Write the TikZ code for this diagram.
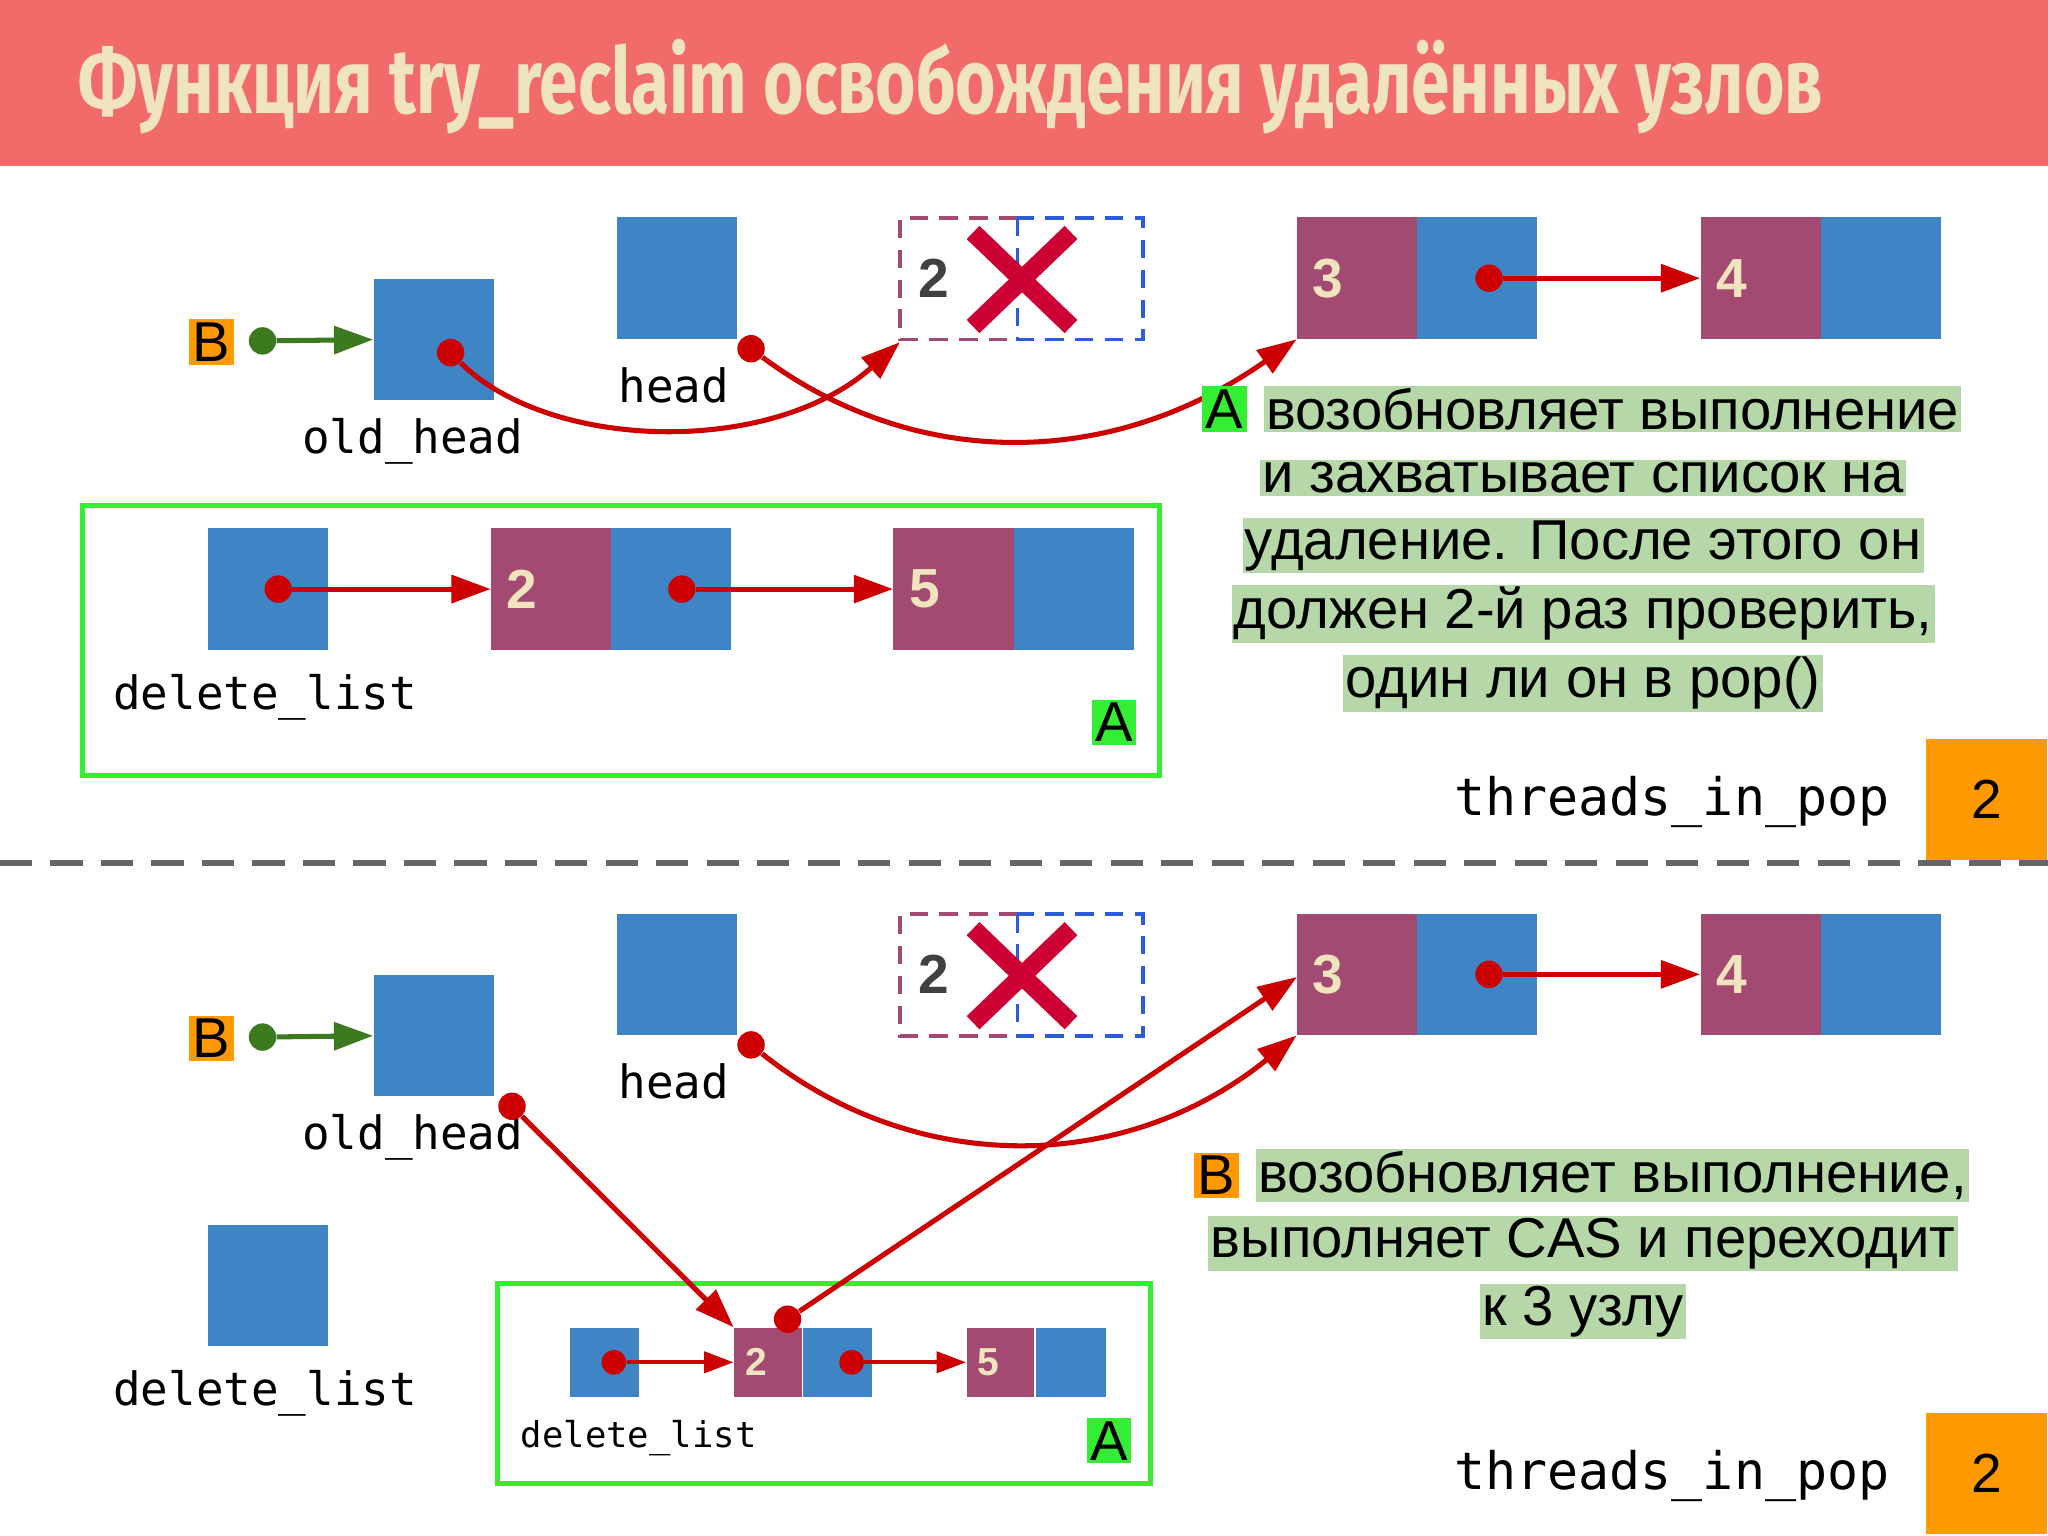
\documentclass[tikz,border=0pt]{standalone}
\usepackage{fontspec}
\setmainfont{Liberation Sans}
\newfontfamily\titlef{Fira Sans}
\setmonofont{DejaVu Sans Mono}
\usetikzlibrary{arrows.meta}
\definecolor{tred}{HTML}{F26B6B}
\definecolor{cream}{HTML}{F0E4BE}
\definecolor{nblue}{HTML}{3F84C5}
\definecolor{npurp}{HTML}{A34A73}
\definecolor{ared}{HTML}{CC0000}
\definecolor{gbox}{HTML}{33EE33}
\definecolor{orng}{HTML}{FF9900}
\definecolor{hl}{HTML}{B6D7A8}
\definecolor{garr}{HTML}{3D7A1F}
\definecolor{xred}{HTML}{CC0033}
\begin{document}
\begin{tikzpicture}[x=0.02cm,y=-0.02cm,
  blue/.style={fill=nblue,draw=none,minimum width=1.84cm,minimum height=1.86cm,inner sep=0},
  purp/.style={fill=npurp,draw=none,minimum width=1.84cm,minimum height=1.86cm,inner sep=0,text=cream,font=\fontsize{24}{24}\selectfont\bfseries,align=left,text width=1.36cm},
  sblue/.style={blue,minimum width=1.06cm,minimum height=1.06cm},
  spurp/.style={purp,minimum width=1.04cm,minimum height=1.06cm,text width=0.7cm,font=\fontsize{17}{17}\selectfont\bfseries},
  arr/.style={ared,line width=2.2pt,-{Triangle[length=0.6cm,width=0.42cm]}},
  sarr/.style={ared,line width=1.8pt,-{Triangle[length=0.45cm,width=0.32cm]}},
  dot/.style={circle,fill=ared,inner sep=0,minimum size=0.42cm},
  mono/.style={font=\fontsize{20}{20}\selectfont\ttfamily},
  lbl/.style={font=\fontsize{24.5}{24.5}\selectfont,inner sep=1pt,fill=hl},
  tag/.style={font=\fontsize{24.5}{24.5}\selectfont,inner sep=1.5pt},
  gframe/.style={draw=gbox,line width=2.2pt},
  dashp/.style={draw=npurp,line width=1.6pt,dash pattern=on 8pt off 5pt},
  dashb/.style={draw=nblue!70!blue,line width=1.6pt,dash pattern=on 8pt off 5pt},
  cnt/.style={fill=orng,minimum width=1.86cm,minimum height=1.86cm,font=\fontsize{24}{24}\selectfont}]
\useasboundingbox (0,0) rectangle (1568,1176);
\fill[white] (0,0) rectangle (1568,1176);
\fill[tred] (0,0) rectangle (1568,127);
\node[anchor=west,text=cream,inner sep=0] (title) at (60,66) {\scalebox{0.755}[1]{\titlef\bfseries\fontsize{40}{40}\selectfont Функция try\_reclaim освобождения удалённых узлов}};
\draw[gray!80!black,line width=2.6pt,dash pattern=on 14pt off 8pt] (0,661) -- (1568,661);

% ================= TOP =================
\node[tag,fill=orng] (Bt) at (162,262) {B};
\node[circle,fill=garr,inner sep=0,minimum size=0.42cm] (gdt) at (201,261) {};
\node[blue] (oht) at (332,260) {};
\draw[garr,line width=2.2pt,-{Triangle[length=0.6cm,width=0.42cm]}] (gdt) -- (oht.west);
\node[mono] (ohlt) at (316,338) {old\_head};
\node[blue] (hdt) at (518,213) {};
\node[mono] (hdlt) at (516,295) {head};
\draw[dashp] (779,167) -- (689,167) -- (689,260) -- (779,260);
\draw[dashb] (779,167) rectangle (875,260);
\coordinate (delt) at (689,262);
\node[font=\fontsize{24}{24}\selectfont\bfseries,text=black!75] (twot) at (715,213) {2};
\draw[xred,line width=8pt] (745,178) -- (820,250) (820,178) -- (745,250);
\node[purp] (n3t) at (1039,213) {3};
\node[blue] (n3bt) at (1131,213) {};
\node[purp] (n4t) at (1348,213) {4};
\node[blue] (n4bt) at (1440,213) {};
\node[dot] (d3t) at (1140,213) {};
\draw[arr] (d3t) -- (n4t.west);
\node[dot] (doht) at (345,270) {};
\node[dot] (dhdt) at (575,267) {};
\draw[arr] (doht) .. controls (420,345) and (590,350) .. (delt);
\draw[arr] (dhdt) .. controls (700,360) and (850,360) .. (n3t.south west);

\draw[gframe] (63,387) rectangle (888,594);
\node[blue] (dlt) at (205,451) {};
\node[mono] (dllt) at (203,534) {delete\_list};
\node[purp] (n2t) at (422,451) {2};
\node[blue] (n2bt) at (514,451) {};
\node[purp] (n5t) at (730,451) {5};
\node[blue] (n5bt) at (822,451) {};
\node[dot] (ddlt) at (213,451) {};
\node[dot] (d2t) at (522,451) {};
\draw[arr] (ddlt) -- (n2t.west);
\draw[arr] (d2t) -- (n5t.west);
\node[tag,fill=gbox] (At) at (853,553) {A};

\node[lbl,anchor=east] (t1) at (1502,313) {возобновляет выполнение};
\node[tag,fill=gbox,anchor=east] (At2) at ([xshift=-0.25cm]t1.west) {A};
\node[lbl] (t2) at (1212,366) {и захватывает список на};
\node[lbl] (t3) at (1212,418) {удаление. После этого он};
\node[lbl] (t4) at (1212,470) {должен 2-й раз проверить,};
\node[lbl] (t5) at (1212,523) {один ли он в pop()};
\node[font=\fontsize{22.5}{22.5}\selectfont\ttfamily] (tipt) at (1280,614) {threads\_in\_pop};
\node[cnt] (ct) at (1521,612) {2};

% ================= BOTTOM =================
\node[tag,fill=orng] (Bb) at (162,795) {B};
\node[circle,fill=garr,inner sep=0,minimum size=0.42cm] (gdb) at (201,794) {};
\node[blue] (ohb) at (332,793) {};
\draw[garr,line width=2.2pt,-{Triangle[length=0.6cm,width=0.42cm]}] (gdb) -- (ohb.west);
\node[mono] (ohlb) at (316,871) {old\_head};
\node[blue] (hdb) at (518,746) {};
\node[mono] (hdlb) at (516,828) {head};
\draw[dashp] (779,700) -- (689,700) -- (689,793) -- (779,793);
\draw[dashb] (779,700) rectangle (875,793);
\node[font=\fontsize{24}{24}\selectfont\bfseries,text=black!75] (twob) at (715,746) {2};
\draw[xred,line width=8pt] (745,711) -- (820,783) (820,711) -- (745,783);
\node[purp] (n3b) at (1039,746) {3};
\node[blue] (n3bb) at (1131,746) {};
\node[purp] (n4b) at (1348,746) {4};
\node[blue] (n4bb) at (1440,746) {};
\node[dot] (d3b) at (1140,746) {};
\draw[arr] (d3b) -- (n4b.west);

\node[blue] (dlb) at (205,984) {};
\node[mono] (dllb) at (203,1067) {delete\_list};

\draw[gframe] (381,983) rectangle (881,1136);
\node[sblue] (sdl) at (463,1043) {};
\node[spurp] (s2) at (588,1043) {2};
\node[sblue] (s2b) at (641,1043) {};
\node[spurp] (s5) at (766,1043) {5};
\node[sblue] (s5b) at (820,1043) {};
\node[dot,minimum size=0.38cm] (dsdl) at (470,1043) {};
\node[dot,minimum size=0.38cm] (ds2) at (652,1043) {};
\draw[sarr] (dsdl) -- (s2.west);
\draw[sarr] (ds2) -- (s5.west);
\node[font=\fontsize{15.5}{15.5}\selectfont\ttfamily] (sdll) at (489,1101) {delete\_list};
\node[tag,fill=gbox] (Ab) at (849,1103) {A};

\node[dot] (dohb) at (392,847) {};
\node[dot] (dhdb) at (575,800) {};
\node[dot] (ds2top) at (603,1010) {};
\draw[arr] (dohb) -- (s2.north west);
\draw[arr] (ds2top) -- (993,748);
\draw[arr] (dhdb) .. controls (700,900) and (860,900) .. (n3b.south west);

\node[lbl,anchor=east] (b1) at (1508,900) {возобновляет выполнение,};
\node[tag,fill=orng,anchor=east] (Bb2) at ([xshift=-0.25cm]b1.west) {B};
\node[lbl] (b2) at (1212,952) {выполняет CAS и переходит};
\node[lbl] (b3) at (1212,1004) {к 3 узлу};
\node[font=\fontsize{22.5}{22.5}\selectfont\ttfamily] (tipb) at (1280,1130) {threads\_in\_pop};
\node[cnt] (cb) at (1521,1128) {2};
\end{tikzpicture}
\end{document}
